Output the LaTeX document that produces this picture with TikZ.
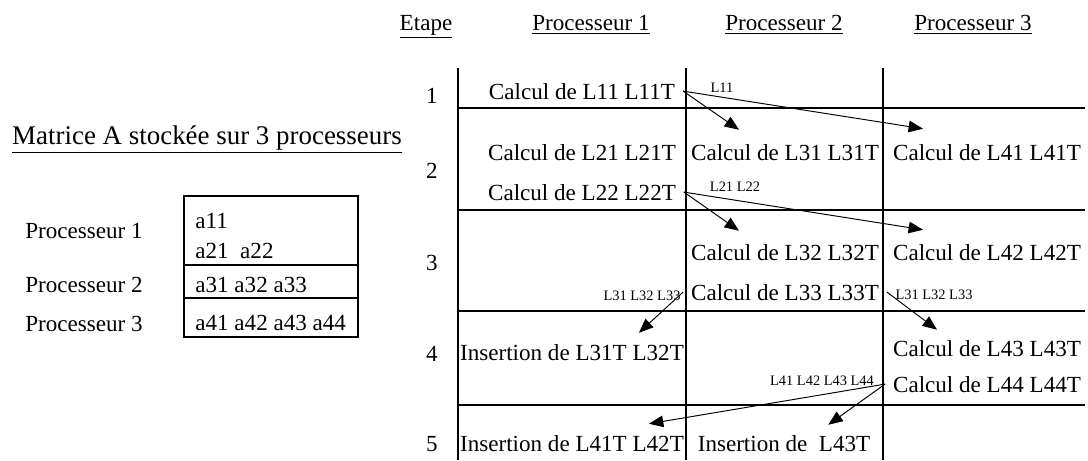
\documentclass[tikz,border=0pt]{standalone}
\usepackage{fontspec}
\setmainfont{Liberation Serif}
\usepackage{tikz}
\usetikzlibrary{arrows.meta,positioning,calc}

\begin{document}
\begin{tikzpicture}[
  x=0.52pt, y=-0.52pt,
  txt/.style    ={anchor=base, inner xsep=4pt, inner ysep=2pt, font=\fontsize{12pt}{14pt}\selectfont},
  entry/.style  ={anchor=base west, inner sep=0pt, font=\fontsize{12pt}{14pt}\selectfont},
  title/.style  ={anchor=base, inner sep=1pt, font=\fontsize{14pt}{16pt}\selectfont},
  lbl/.style    ={anchor=base, inner sep=1pt, font=\fontsize{7.5pt}{9pt}\selectfont},
  tabline/.style={line width=1pt},
  boxline/.style={line width=0.8pt},
  msg/.style    ={-{Triangle[length=7.5pt,width=6pt]}, line width=0.5pt},
]
  \useasboundingbox (0,0) rectangle (1088,460);

  % matrice
  \node[title] (mat) at (207,144) {\underline{Matrice A stockée sur 3 processeurs}};
  \node[txt] (pl1) at (84,238) {Processeur 1};
  \node[txt] (pl2) at (84,292) {Processeur 2};
  \node[txt] (pl3) at (84,331) {Processeur 3};
  \draw[boxline] (184,196) rectangle (358,337);
  \draw[boxline] (184,265) -- (358,265);
  \draw[boxline] (184,298) -- (358,298);
  \node[entry] (a1) at (195,228) {a11};
  \node[entry] (a2) at (195,258) {a21\ \ a22};
  \node[entry] (a3) at (195,292) {a31 a32 a33};
  \node[entry] (a4) at (195,330) {a41 a42 a43 a44};

  % en-tetes
  \node[txt] (hstep) at (426,30) {\underline{Etape}};
  \node[txt] (hp1)   at (591,30) {\underline{Processeur 1}};
  \node[txt] (hp2)   at (784,30) {\underline{Processeur 2}};
  \node[txt] (hp3)   at (973,30) {\underline{Processeur 3}};

  \foreach \x in {458,686,883} \draw[tabline] (\x,68) -- (\x,460);
  \foreach \y in {108,210,311,405} \draw[tabline] (458,\y) -- (1085,\y);

  \foreach \n/\y in {1/103,2/178,3/270,4/361,5/451}
    \node[txt] (s\n) at (432,\y) {\n};

  % etapes
  \node[txt] (c11) at (582,99)  {Calcul de L11 L11T};
  \node[txt] (c21) at (582,160) {Calcul de L21 L21T};
  \node[txt] (c22) at (582,200) {Calcul de L22 L22T};
  \node[txt] (c31) at (785,160) {Calcul de L31 L31T};
  \node[txt] (c41) at (987,160) {Calcul de L41 L41T};
  \node[txt] (c32) at (785,260) {Calcul de L32 L32T};
  \node[txt] (c42) at (987,260) {Calcul de L42 L42T};
  \node[txt] (c33) at (785,300) {Calcul de L33 L33T};
  \node[txt] (i1)  at (572,360) {Insertion de L31T L32T};
  \node[txt] (c43) at (987,356) {Calcul de L43 L43T};
  \node[txt] (c44) at (987,392) {Calcul de L44 L44T};
  \node[txt] (i2)  at (572,451) {Insertion de L41T L42T};
  \node[txt] (i3)  at (784,451) {Insertion de\ \ L43T};

  % messages
  \node[lbl] (m1)  at (722,92)  {L11};
  \node[lbl] (m2)  at (735,191) {L21 L22};
  \node[lbl] (m3a) at (642,300) {L31 L32 L33};
  \node[lbl] (m3b) at (934,299) {L31 L32 L33};
  \node[lbl] (m4)  at (822,385) {L41 L42 L43 L44};

  \draw[msg] (c11.east) -- ($(c31.north west)+(56,-10)$);
  \draw[msg] (c11.east) -- ($(c41.north west)+(38,-11)$);
  \draw[msg] (c22.east) -- ($(c32.north west)+(56,-9)$);
  \draw[msg] (c22.east) -- ($(c42.north west)+(38,-10)$);
  \draw[msg] (c33.west) -- ($(i1.north east)+(-53,-7)$);
  \draw[msg] (c33.east) -- ($(c43.north west)+(52,-6)$);
  \draw[msg] (c44.west) -- ($(i2.north east)+(-43,-7)$);
  \draw[msg] (c44.west) -- ($(i3.north east)+(-50,-6)$);
\end{tikzpicture}
\end{document}
